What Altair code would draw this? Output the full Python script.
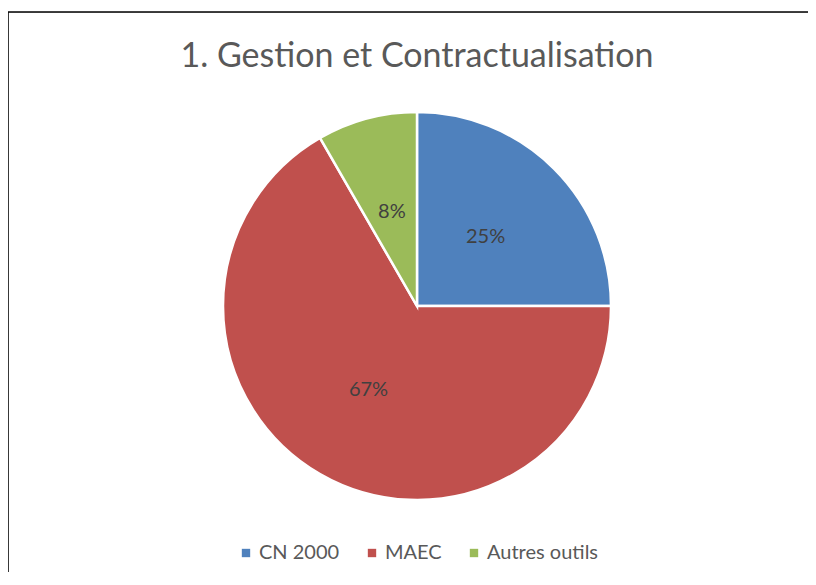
import altair as alt
import pandas as pd

categories = ["CN 2000", "MAEC", "Autres outils"]
counts = [3, 8, 1]
order_idx = [0, 1, 2]
colors = ["#4F81BD", "#C0504D", "#9BBB59"]
title_text = "1. Gestion et Contractualisation"

total = sum(counts)
df = pd.DataFrame({
    "cat": categories,
    "val": counts,
    "ord": order_idx,
    "label": [f"{round(v / total * 100)}%" for v in counts],
})

W, H = 800, 560
CX, CY, R = 409, 294, 194
FONT = "Lato"

color = alt.Color("cat:N", scale=alt.Scale(domain=categories, range=colors),
                  sort=categories,
                  legend=alt.Legend(orient="none", direction="horizontal", title=None,
                                    legendX=228, legendY=531, symbolType="square",
                                    symbolSize=70, symbolStrokeWidth=0,
                                    labelFont=FONT, labelFontSize=20, labelColor="#595959",
                                    columnPadding=22, labelOffset=3))

base = alt.Chart(df).encode(
    theta=alt.Theta("val:Q", stack=True),
    order=alt.Order("ord:Q"),
)

pie = base.mark_arc(radius=R, stroke="white", strokeWidth=2.5).encode(
    color=color, x=alt.value(CX), y=alt.value(CY)
)

labels = base.mark_text(radius=R * 0.5, font=FONT, fontSize=20, color="#404040",
                        align="center", baseline="middle").encode(
    text="label:N", x=alt.value(CX), y=alt.value(CY)
)

title = alt.Chart(pd.DataFrame({"t": [title_text]})).mark_text(
    font=FONT, fontSize=34, color="#595959", align="center", baseline="alphabetic"
).encode(text="t:N", x=alt.value(CX), y=alt.value(55))

frame_top = alt.Chart(pd.DataFrame({"a": [0]})).mark_rule(color="#000000", strokeWidth=1.5).encode(
    x=alt.value(0), x2=alt.value(W + 10), y=alt.value(0)
)
frame_left = alt.Chart(pd.DataFrame({"a": [0]})).mark_rule(color="#000000", strokeWidth=1.5).encode(
    x=alt.value(0), y=alt.value(0), y2=alt.value(H + 10)
)

chart = alt.layer(frame_top, frame_left, pie, labels, title).properties(
    width=W, height=H,
    padding={"left": 0, "top": 4, "right": 0, "bottom": 0},
    autosize=alt.AutoSizeParams(type="none"),
).configure_view(stroke=None).configure(background="white")

chart.save("out.html", embed_options={"renderer": "svg", "actions": False})
